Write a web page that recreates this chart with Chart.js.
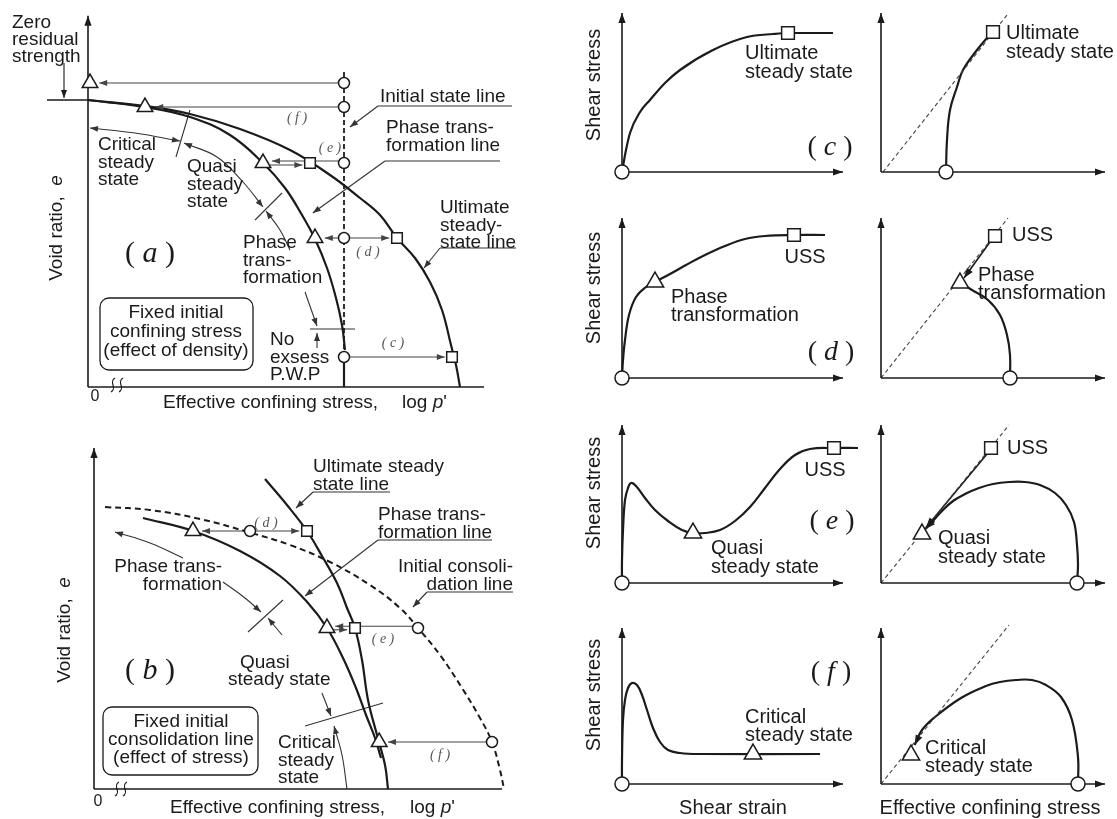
<!DOCTYPE html>
<html lang="en">
<head>
<meta charset="utf-8">
<title>Steady states in e - log p' space</title>
<script src="https://cdn.jsdelivr.net/npm/chart.js@4.4.1/dist/chart.umd.min.js"></script>
<style>
  html, body { margin: 0; background: #fff; }
  #page { position: relative; width: 1117px; height: 819px; overflow: hidden; }
  #page canvas { position: absolute; }
</style>
</head>
<body>
<div id="page"></div>
<script>
// ---------- (a) void ratio e vs log p' : fixed initial confining stress ----------
// units of the sketch, origin at the axes corner
const aUSS = [[0,7.175],[1.425,7.025],[2.55,6.825],[3.8,6.45],[5.05,5.925],[6.05,5.3],[6.8,4.725],[7.3,4.3],[7.725,3.725],[8.175,3.225],[8.55,2.625],[8.85,1.925],[9.075,1.05],[9.2,0.55],[9.3,0]];
const aPT = [[0,7.175],[1.425,7.0],[2.55,6.75],[3.55,6.3],[4.375,5.6],[4.925,4.975],[5.35,4.3],[5.675,3.7],[5.975,2.975],[6.2,2.225],[6.35,1.55],[6.425,0.925]];
const aInitDash = [[6.4,7.875],[6.4,0.925]];
const aInitSolid = [[6.4,0.75],[6.4,0]];
const aCircles = [[6.4,7.6],[6.4,7.0],[6.4,5.6],[6.4,3.725],[6.4,0.75]];
const aTriangles = [[0.05,7.6],[1.425,7.0],[4.375,5.6],[5.675,3.725]];
const aSquares = [[5.55,5.6],[7.725,3.725],[9.1,0.75]];
// stress paths between initial state and steady states (rows z, f, e, d, c)
const aPaths = [
  [[6.25,7.6],[0.28,7.6]], [[6.25,7.0],[1.68,7.0]],
  [[6.25,5.65],[4.6,5.65]], [[4.55,5.55],[5.36,5.55]],
  [[6.25,3.725],[5.92,3.725]], [[6.55,3.725],[7.53,3.725]],
  [[6.55,0.75],[8.92,0.75]]
];
// range arcs and boundary ticks
const aCSSArc = [[0.05,6.475],[1.175,6.35],[2.3,6.15]];
const aQSSArc = [[2.4,6.1],[3.225,5.75],[3.875,5.125],[4.375,4.5]];
const aPTArc1 = [[4.45,4.4],[4.8,3.925],[5.05,3.425]];
const aPTArc2 = [[5.425,2.375],[5.725,1.525]];
const aNoPWP = [[5.725,0.975],[5.725,1.35]];
const aTicks = [[[2.2,5.75],[2.55,6.925]], [[4.175,4.175],[4.85,4.85]], [[5.55,1.45],[6.675,1.45]]];
const aZeroLevel = [[-1.025,7.175],[0,7.175]];
const aZeroArrow = [[-0.6,8.1],[-0.6,7.225]];
const aUnderlines = [[[7.25,7.025],[10.6,7.025]], [[7.425,5.65],[10.3,5.65]], [[8.8,3.475],[10.7,3.475]]];
const aLeaders = [[[7.25,7.025],[6.55,6.5]], [[7.425,5.65],[5.62,4.35]], [[8.8,3.475],[8.4,2.975]]];

// ---------- (b) fixed initial consolidation line ----------
const bInit = [[0.275,7.05],[1.4,6.975],[2.65,6.75],[3.85,6.425],[4.9,6.1],[5.9,5.675],[6.9,5.1],[7.65,4.525],[8.1,4.025],[8.65,3.35],[9.2,2.525],[9.65,1.775],[9.95,1.175],[10.15,0.475],[10.25,0]];
const bUSS = [[4.275,7.75],[4.825,7.1],[5.325,6.45],[5.7,5.825],[6.075,5.15],[6.325,4.525],[6.525,4.025],[6.7,3.225],[6.85,2.225],[7.075,1.35],[7.275,0.6],[7.35,0]];
const bPT = [[1.225,6.775],[2.475,6.45],[3.65,5.95],[4.65,5.325],[5.35,4.65],[5.825,4.025],[6.225,3.275],[6.55,2.525],[6.8,1.85],[7.025,1.275],[7.175,0.775]];
const bCircles = [[3.9,6.45],[8.1,4.025],[9.95,1.175]];
const bTriangles = [[2.475,6.45],[5.825,4.025],[7.13,1.175]];
const bSquares = [[5.325,6.45],[6.525,4.025]];
const bPaths = [
  [[3.75,6.45],[2.7,6.45]], [[4.05,6.45],[5.13,6.45]],
  [[7.95,4.07],[6.03,4.07]], [[6.0,3.98],[6.33,3.98]],
  [[9.8,1.175],[7.35,1.175]]
];
const bPTArc1 = [[0.525,6.425],[1.4,6.15],[2.225,5.775]];
const bPTArc2 = [[3.225,5.175],[3.775,4.775],[4.175,4.425]];
const bQSSArc1 = [[4.35,4.275],[4.7,3.85]];
const bQSSArc2 = [[5.7,2.4],[5.925,1.825]];
const bCSSArc = [[6.0,1.575],[6.2,0.85],[6.325,0]];
const bTicks = [[[3.85,3.925],[4.725,4.725]], [[5.275,1.575],[7.225,2.15]]];
const bUnderlines = [[[5.475,7.425],[7.4,7.425]], [[7.1,6.225],[9.95,6.225]], [[8.325,4.925],[10.475,4.925]]];
const bLeaders = [[[5.475,7.425],[5.05,7.025]], [[7.1,6.225],[5.275,4.825]], [[8.325,4.925],[7.975,4.55]]];

// ---------- (c)-(f) shear stress vs strain, and stress paths ----------
const cStrain = [[0,0],[0.2,1.1],[0.4,1.95],[0.9,3.0],[1.4,3.6],[2.15,4.45],[2.9,5.1],[4.55,6.1],[6.25,6.75],[7.55,6.9],[8.3,6.95],[10.55,6.95]];
const cPath = [[3.25,0],[3.3,1.6],[3.45,3.1],[3.8,4.25],[4.1,5.1],[4.8,6.1],[5.3,6.7],[5.6,7.0]];
const dStrain = [[0,0],[0.05,0.9],[0.15,1.9],[0.35,3.15],[0.7,4.05],[1.2,4.55],[1.65,4.8],[2.4,5.2],[3.2,5.65],[4.15,6.15],[5.15,6.6],[6.15,6.95],[7.15,7.1],[8.6,7.15],[10.15,7.15]];
const dPath = [[6.45,0],[6.45,1.15],[6.3,2.15],[5.95,3.15],[5.35,3.9],[4.55,4.4],[3.95,4.75]];
const dPathUSS = [[5.45,6.8],[4.15,5.0]];
const eStrain = [[0,0],[0,1.15],[0.05,2.65],[0.15,4.15],[0.3,4.75],[0.45,5.0],[0.7,4.85],[1.15,4.25],[1.65,3.65],[2.3,3.1],[3.0,2.65],[3.55,2.5],[4.15,2.5],[4.9,2.65],[5.65,3.1],[6.4,3.8],[7.15,4.75],[7.9,5.7],[8.65,6.4],[9.4,6.7],[10.6,6.75],[11.8,6.75]];
const ePath = [[9.8,0],[9.85,0.9],[9.8,1.9],[9.65,3.05],[9.25,3.9],[8.7,4.5],[7.95,4.9],[7.2,5.05],[6.4,5.05],[5.6,4.95],[4.9,4.75],[4.2,4.45],[3.6,4.1],[3.05,3.6],[2.55,3.05],[2.22,2.7]];
const ePathUSS = [[5.3,6.45],[2.25,2.78]];
const fStrain = [[0,0],[0,1.2],[0.05,3.2],[0.15,4.2],[0.3,4.8],[0.5,5.05],[0.75,4.95],[1.0,4.45],[1.25,3.7],[1.55,2.8],[1.9,2.1],[2.3,1.7],[2.9,1.55],[3.9,1.5],[9.9,1.5]];
const fPath = [[9.85,0],[9.85,1.35],[9.55,3.2],[9.0,4.35],[8.25,4.95],[7.55,5.2],[6.75,5.2],[5.95,5.1],[5.25,4.9],[4.0,4.3],[2.7,3.35],[2.05,2.7],[1.68,1.95]];
// failure (steady state) lines through the origin
const cLine = [[0.1,0],[6.3,7.85]];
const dLine = [[0,0],[6.35,8.0]];
const eLine = [[0,0],[6.4,7.9]];
const fLine = [[0,0],[6.4,7.95]];

// ---------- helpers ----------
const INK = '#1b1b1b';
const SANS = '"Liberation Sans", Arial, Helvetica, sans-serif';
const SERIF = '"Liberation Serif", "Times New Roman", serif';
const P = a => a.map(([x, y]) => ({ x, y }));

function line(a, o) {
  return Object.assign({ data: P(a), showLine: true, borderColor: INK, borderWidth: 2.2,
    pointRadius: 0, tension: 0.4, fill: false, clip: false, order: 1 }, o || {});
}
function thin(a, arrow, o) {
  return line(a, Object.assign({ borderWidth: 1.1, tension: 0, borderColor: '#333', arrow: arrow }, o || {}));
}
function marks(a, style, r) {
  return { data: P(a), showLine: false, pointStyle: style, pointRadius: r, pointBorderWidth: 1.5,
    pointBorderColor: INK, pointBackgroundColor: '#fff', clip: false, order: 0 };
}
function axis(a, arrow) { return line(a, { borderWidth: 1.6, tension: 0, arrow: arrow }); }

function head(ctx, a, b, col, big) {
  const len = big ? 10 : 8, w = big ? 3.6 : 3;
  const ang = Math.atan2(b.y - a.y, b.x - a.x);
  ctx.save();
  ctx.translate(b.x, b.y); ctx.rotate(ang);
  ctx.beginPath(); ctx.moveTo(0, 0); ctx.lineTo(-len, -w); ctx.lineTo(-len, w); ctx.closePath();
  ctx.fillStyle = col; ctx.fill();
  ctx.restore();
}

function rich(ctx, segs, align) {
  const w = segs.map(s => { ctx.font = s[1]; return ctx.measureText(s[0]).width; });
  const total = w.reduce((p, q) => p + q, 0);
  let x = align === 'center' ? -total / 2 : align === 'right' ? -total : 0;
  ctx.textAlign = 'left';
  segs.forEach((s, i) => { ctx.font = s[1]; ctx.fillText(s[0], x, 0); x += w[i]; });
}

function drawNote(ctx, n, X, Y, def) {
  ctx.fillStyle = INK; ctx.strokeStyle = INK; ctx.textBaseline = 'middle';
  if (n.box) {
    const [x1, y1, x2, y2] = n.box;
    ctx.lineWidth = 1.3; ctx.beginPath();
    ctx.roundRect(X(x1), Y(y1), X(x2) - X(x1), Y(y2) - Y(y1), 9); ctx.stroke();
    return;
  }
  if (n.brk) {
    const bx = X(n.brk[0]), by = Y(n.brk[1]);
    ctx.lineWidth = 1.2;
    [-4, 4].forEach(dx => {
      ctx.beginPath(); ctx.moveTo(bx + dx - 2, by + 7);
      ctx.bezierCurveTo(bx + dx + 5, by + 3, bx + dx - 5, by - 3, bx + dx + 2, by - 7); ctx.stroke();
    });
    return;
  }
  const size = n.size || def.size, lh = n.lh || def.lh;
  ctx.save();
  ctx.translate(X(n.x), Y(n.y));
  if (n.rot) ctx.rotate(-Math.PI / 2);
  if (n.lab) {
    const s = n.size || 28;
    rich(ctx, [['( ', s + 'px ' + SERIF], [n.lab, 'italic ' + s + 'px ' + SERIF], [' )', s + 'px ' + SERIF]], 'center');
  } else if (n.cas) {
    ctx.fillStyle = '#555';
    rich(ctx, [['( ' + n.cas + ' )', 'italic 14px ' + SERIF]], 'center');
  } else if (n.math) {
    rich(ctx, n.math.map(s => [s[0], (s[1] ? 'italic ' : '') + size + 'px ' + SANS]), n.align || 'left');
  } else {
    ctx.font = size + 'px ' + SANS;
    ctx.textAlign = n.align || 'left';
    n.t.split('\n').forEach((s, i) => ctx.fillText(s, 0, i * lh));
  }
  ctx.restore();
}

function deco(notes, def) {
  return {
    id: 'deco',
    afterDatasetsDraw(chart) {
      const ctx = chart.ctx;
      const X = v => chart.scales.x.getPixelForValue(v);
      const Y = v => chart.scales.y.getPixelForValue(v);
      ctx.save();
      chart.data.datasets.forEach((ds, i) => {
        if (!ds.arrow) return;
        const p = chart.getDatasetMeta(i).data;
        const big = ds.borderWidth >= 1.5;
        if (ds.arrow !== 'start') head(ctx, p[p.length - 2], p[p.length - 1], ds.borderColor, big);
        if (ds.arrow !== 'end') head(ctx, p[1], p[0], ds.borderColor, big);
      });
      notes.forEach(n => drawNote(ctx, n, X, Y, def));
      ctx.restore();
    }
  };
}

function panel(f, datasets, notes, def) {
  const cv = document.createElement('canvas');
  cv.width = f.W; cv.height = f.H;
  cv.style.left = f.L + 'px'; cv.style.top = f.T + 'px';
  cv.style.width = f.W + 'px'; cv.style.height = f.H + 'px';
  document.getElementById('page').appendChild(cv);
  new Chart(cv.getContext('2d'), {
    type: 'scatter',
    data: { datasets: datasets },
    options: {
      responsive: false, animation: false, events: [],
      layout: { padding: 0, autoPadding: false },
      plugins: { legend: { display: false }, tooltip: { enabled: false } },
      scales: {
        x: { type: 'linear', display: false, bounds: 'data', min: (f.L - f.ox) / f.k, max: (f.L + f.W - f.ox) / f.k },
        y: { type: 'linear', display: false, bounds: 'data', min: (f.oy - f.T - f.H) / f.k, max: (f.oy - f.T) / f.k }
      }
    },
    plugins: [deco(notes, def)]
  });
}

const LEFT = { size: 19, lh: 17.5 };
const RIGHT = { size: 20, lh: 19 };
const voidLabel = [['Void ratio,  ', false], ['e', true]];
const logLabel = [['log ', false], ['p', true], ["'", false]];

// ---------- panel (a) ----------
panel({ L: 0, T: 0, W: 540, H: 415, ox: 88, oy: 387, k: 40 }, [
  axis([[0, 0], [0, 9.28]], 'end'),
  axis([[0, 0], [9.9, 0]]),
  line(aZeroLevel, { borderWidth: 1.4, tension: 0 }),
  thin(aZeroArrow, 'end', { borderColor: INK }),
  line(aUSS), line(aPT),
  line(aInitDash, { borderDash: [5, 3], borderWidth: 1.8, tension: 0 }),
  line(aInitSolid, { tension: 0 }),
  ...aPaths.map(p => thin(p, 'end', { borderColor: '#444' })),
  thin(aCSSArc, 'both', { tension: 0.4 }),
  thin(aQSSArc, 'both', { tension: 0.4 }),
  thin(aPTArc1, 'start', { tension: 0.4 }),
  thin(aPTArc2, 'end'),
  thin(aNoPWP, 'end'),
  ...aTicks.map(p => thin(p)),
  ...aUnderlines.map(p => thin(p)),
  ...aLeaders.map(p => thin(p, 'end')),
  marks(aCircles, 'circle', 5.5), marks(aSquares, 'rect', 7.5), marks(aTriangles, 'triangle', 9)
], [
  { t: 'Zero\nresidual\nstrength', x: -1.9, y: 9.1, lh: 17 },
  { t: 'Critical\nsteady\nstate', x: 0.25, y: 6.05 },
  { t: 'Quasi\nsteady\nstate', x: 2.475, y: 5.5 },
  { t: 'Phase\ntrans-\nformation', x: 3.875, y: 3.6 },
  { t: 'No\nexsess\nP.W.P', x: 4.55, y: 1.175 },
  { t: 'Initial state line', x: 7.3, y: 7.25 },
  { t: 'Phase trans-\nformation line', x: 7.45, y: 6.475 },
  { t: 'Ultimate\nsteady-\nstate line', x: 8.8, y: 4.475 },
  { box: [0.3, 2.225, 4.125, 0.425] },
  { t: 'Fixed initial\nconfining stress\n(effect of density)', x: 2.2, y: 1.85, align: 'center', lh: 19 },
  { math: voidLabel, x: -0.775, y: 3.975, rot: true, align: 'center' },
  { t: 'Effective confining stress,', x: 1.875, y: -0.4 },
  { math: logLabel, x: 7.85, y: -0.4 },
  { t: '0', x: 0.175, y: -0.25, size: 16, align: 'center' },
  { brk: [0.725, 0.05] },
  { lab: 'a', x: 1.55, y: 3.325, size: 30 },
  { cas: 'f', x: 5.225, y: 6.725 }, { cas: 'e', x: 6.05, y: 5.975 },
  { cas: 'd', x: 7.0, y: 3.375 }, { cas: 'c', x: 7.625, y: 1.1 }
], LEFT);

// ---------- panel (b) ----------
panel({ L: 0, T: 415, W: 540, H: 404, ox: 94, oy: 789, k: 40 }, [
  axis([[0, 0], [0, 8.525]], 'end'),
  axis([[0, 0], [10.2, 0]]),
  line(bInit, { borderDash: [6, 4], borderWidth: 2 }),
  line(bUSS), line(bPT),
  ...bPaths.map(p => thin(p, 'end', { borderColor: '#444' })),
  thin(bPTArc1, 'start', { tension: 0.4 }),
  thin(bPTArc2, 'end', { tension: 0.4 }),
  thin(bQSSArc1, 'start'),
  thin(bQSSArc2, 'end'),
  thin(bCSSArc, 'start', { tension: 0.4 }),
  ...bTicks.map(p => thin(p)),
  ...bUnderlines.map(p => thin(p)),
  ...bLeaders.map(p => thin(p, 'end')),
  marks(bCircles, 'circle', 5.5), marks(bSquares, 'rect', 7.5), marks(bTriangles, 'triangle', 9)
], [
  { t: 'Ultimate steady\nstate line', x: 5.475, y: 8.05 },
  { t: 'Phase trans-\nformation line', x: 7.1, y: 6.85 },
  { t: 'Initial consoli-\ndation line', x: 10.475, y: 5.55, align: 'right' },
  { t: 'Phase trans-\nformation', x: 3.2, y: 5.55, align: 'right' },
  { t: 'Quasi', x: 3.65, y: 3.15 },
  { t: 'steady state', x: 3.35, y: 2.725 },
  { t: 'Critical\nsteady\nstate', x: 4.6, y: 1.15 },
  { box: [0.225, 2.05, 4.1, 0.35] },
  { t: 'Fixed initial\nconsolidation line\n(effect of stress)', x: 2.175, y: 1.675, align: 'center', lh: 18 },
  { math: voidLabel, x: -0.725, y: 3.975, rot: true, align: 'center' },
  { t: 'Effective confining stress,', x: 1.9, y: -0.475 },
  { math: logLabel, x: 7.9, y: -0.475 },
  { t: '0', x: 0.1, y: -0.325, size: 16, align: 'center' },
  { brk: [0.675, 0] },
  { lab: 'b', x: 1.4, y: 2.95, size: 30 },
  { cas: 'd', x: 4.3, y: 6.65 }, { cas: 'e', x: 7.225, y: 3.75 }, { cas: 'f', x: 8.65, y: 0.85 }
], LEFT);

// ---------- right column ----------
const dashed = a => line(a, { borderDash: [4, 3], borderWidth: 1.1, borderColor: '#444', tension: 0 });
const shear = (y) => ({ t: 'Shear stress', x: -1.4, y: y, rot: true, align: 'center' });

panel({ L: 555, T: 0, W: 310, H: 205, ox: 622, oy: 172, k: 20 }, [
  axis([[0, 0], [0, 7.95]], 'end'), axis([[0, 0], [11.05, 0]], 'end'),
  line(cStrain, { cubicInterpolationMode: 'monotone' }),
  marks([[0, 0]], 'circle', 7), marks([[8.3, 6.95]], 'rect', 9)
], [
  { t: 'Ultimate\nsteady state', x: 6.15, y: 5.95 },
  shear(4.35), { lab: 'c', x: 10.4, y: 1.2 }
], RIGHT);

panel({ L: 850, T: 0, W: 267, H: 205, ox: 881, oy: 172, k: 20 }, [
  axis([[0, 0], [0, 7.95]], 'end'), axis([[0, 0], [11.2, 0]], 'end'),
  dashed(cLine),
  line(cPath),
  marks([[3.25, 0]], 'circle', 7), marks([[5.6, 7.0]], 'rect', 9)
], [
  { t: 'Ultimate\nsteady state', x: 6.25, y: 6.95 }
], RIGHT);

panel({ L: 555, T: 205, W: 310, H: 205, ox: 622, oy: 378, k: 20 }, [
  axis([[0, 0], [0, 8.0]], 'end'), axis([[0, 0], [11.05, 0]], 'end'),
  line(dStrain),
  marks([[0, 0]], 'circle', 7), marks([[1.65, 4.8]], 'triangle', 10), marks([[8.6, 7.15]], 'rect', 9)
], [
  { t: 'USS', x: 9.15, y: 6.05, align: 'center' },
  { t: 'Phase\ntransformation', x: 2.45, y: 4.05, lh: 18 },
  shear(4.5), { lab: 'd', x: 10.45, y: 1.25 }
], RIGHT);

panel({ L: 850, T: 205, W: 267, H: 205, ox: 881, oy: 378, k: 20 }, [
  axis([[0, 0], [0, 8.0]], 'end'), axis([[0, 0], [11.2, 0]], 'end'),
  dashed(dLine),
  line(dPath), line(dPathUSS, { tension: 0, borderWidth: 1.6, arrow: 'end' }),
  marks([[6.45, 0]], 'circle', 7), marks([[3.95, 4.75]], 'triangle', 10), marks([[5.7, 7.1]], 'rect', 9)
], [
  { t: 'USS', x: 6.55, y: 7.15 },
  { t: 'Phase\ntransformation', x: 4.85, y: 5.15, lh: 18 }
], RIGHT);

panel({ L: 555, T: 410, W: 310, H: 205, ox: 622, oy: 583, k: 20 }, [
  axis([[0, 0], [0, 7.9]], 'end'), axis([[0, 0], [11.05, 0]], 'end'),
  line(eStrain),
  marks([[0, 0]], 'circle', 7), marks([[3.55, 2.5]], 'triangle', 10), marks([[10.6, 6.75]], 'rect', 9)
], [
  { t: 'USS', x: 10.15, y: 5.65, align: 'center' },
  { t: 'Quasi\nsteady state', x: 4.45, y: 1.75 },
  shear(4.5), { lab: 'e', x: 10.5, y: 3.05 }
], RIGHT);

panel({ L: 850, T: 410, W: 267, H: 205, ox: 881, oy: 583, k: 20 }, [
  axis([[0, 0], [0, 7.9]], 'end'), axis([[0, 0], [11.2, 0]], 'end'),
  dashed(eLine),
  line(ePath, { arrow: 'end' }), line(ePathUSS, { tension: 0, borderWidth: 1.6, arrow: 'end' }),
  marks([[9.8, 0]], 'circle', 7), marks([[2.05, 2.45]], 'triangle', 10), marks([[5.5, 6.75]], 'rect', 9)
], [
  { t: 'USS', x: 6.3, y: 6.75 },
  { t: 'Quasi\nsteady state', x: 2.85, y: 2.25 }
], RIGHT);

panel({ L: 555, T: 615, W: 310, H: 204, ox: 622, oy: 784, k: 20 }, [
  axis([[0, 0], [0, 7.8]], 'end'), axis([[0, 0], [11.05, 0]], 'end'),
  line(fStrain),
  marks([[0, 0]], 'circle', 7), marks([[6.55, 1.5]], 'triangle', 10)
], [
  { t: 'Critical\nsteady state', x: 6.15, y: 3.35, lh: 18 },
  shear(4.45), { lab: 'f', x: 10.45, y: 5.55 },
  { t: 'Shear strain', x: 5.55, y: -1.2, align: 'center' }
], RIGHT);

panel({ L: 850, T: 615, W: 267, H: 204, ox: 881, oy: 784, k: 20 }, [
  axis([[0, 0], [0, 7.8]], 'end'), axis([[0, 0], [11.2, 0]], 'end'),
  dashed(fLine),
  line(fPath, { arrow: 'end' }),
  marks([[9.85, 0]], 'circle', 7), marks([[1.5, 1.45]], 'triangle', 10)
], [
  { t: 'Critical\nsteady state', x: 2.2, y: 1.8, lh: 18 },
  { t: 'Effective confining stress', x: 5.45, y: -1.2, align: 'center' }
], RIGHT);
</script>
</body>
</html>
